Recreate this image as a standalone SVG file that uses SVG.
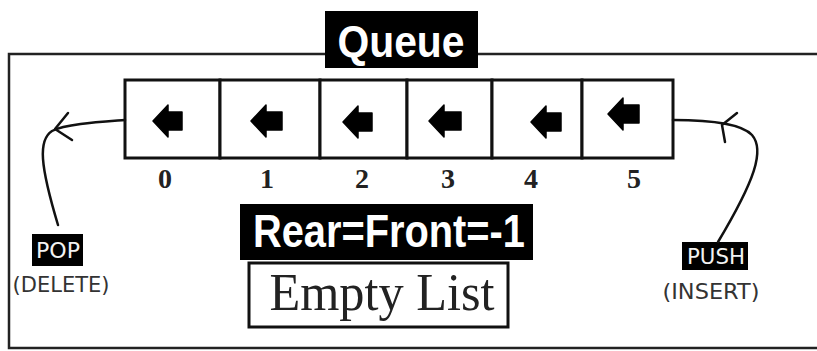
<svg xmlns="http://www.w3.org/2000/svg" width="817" height="351" viewBox="0 0 817 351">
<style>
.frame{fill:none;stroke:#222;stroke-width:2.5}
.cell{fill:#fff;stroke:#111;stroke-width:3}
.arr{fill:#000;stroke:#000;stroke-width:1.5;stroke-linejoin:round}
.idx{font-family:"Liberation Serif",serif;font-weight:bold;font-size:28px;fill:#222;text-anchor:middle}
.conn{fill:none;stroke:#111;stroke-width:2.5;stroke-linecap:round;stroke-linejoin:round}
.tag{fill:#000}
.tagtxt{font-family:"DejaVu Sans",sans-serif;font-size:22px;fill:#f2f2f2;text-anchor:middle}
.sub{font-family:"DejaVu Sans",sans-serif;font-size:22px;fill:#333;text-anchor:middle}
</style>
<rect width="817" height="351" fill="#fff"/>
<g id="frame">
<path class="frame" d="M325,54 H9 V348 H817 M478,54 H817"/>
</g>
<g id="title">
<rect x="325" y="11" width="153" height="57" fill="#000"/>
<text x="401" y="57" font-family="Liberation Sans,sans-serif" font-weight="bold" font-size="44" fill="#fff" text-anchor="middle" textLength="127" lengthAdjust="spacingAndGlyphs">Queue</text>
</g>
<g id="array">
<rect class="cell" x="125" y="80" width="95" height="78"/>
<rect class="cell" x="220" y="80" width="100" height="78"/>
<rect class="cell" x="320" y="80" width="87" height="78"/>
<rect class="cell" x="407" y="80" width="85" height="78"/>
<rect class="cell" x="492" y="80" width="90" height="78"/>
<rect class="cell" x="582" y="80" width="91" height="78"/>
<path class="arr" d="M153,121 L168,105 L168,112 L182,112 L182,130 L168,130 L168,137 Z"/>
<path class="arr" d="M251,121 L266,105 L266,112 L282,112 L282,130 L266,130 L266,137 Z"/>
<path class="arr" d="M343,122 L358,106 L358,113 L372,113 L372,131 L358,131 L358,138 Z"/>
<path class="arr" d="M429,121 L444,105 L444,112 L461,112 L461,130 L444,130 L444,137 Z"/>
<path class="arr" d="M531,122 L546,106 L546,113 L561,113 L561,131 L546,131 L546,138 Z"/>
<path class="arr" d="M608,114 L623,98 L623,105 L639,105 L639,123 L623,123 L623,130 Z"/>
<text class="idx" x="165" y="188">0</text>
<text class="idx" x="267" y="188">1</text>
<text class="idx" x="362" y="188">2</text>
<text class="idx" x="448" y="188">3</text>
<text class="idx" x="531" y="188">4</text>
<text class="idx" x="634" y="188">5</text>
</g>
<g id="state">
<rect x="240" y="204" width="293" height="56" fill="#000"/>
<text x="389" y="247" font-family="Liberation Sans,sans-serif" font-weight="bold" font-size="47" fill="#fff" text-anchor="middle" textLength="272" lengthAdjust="spacingAndGlyphs">Rear=Front=-1</text>
</g>
<g id="empty">
<rect x="249" y="263" width="259" height="64" fill="#fff" stroke="#111" stroke-width="3"/>
<text x="382" y="310" font-family="Liberation Serif,serif" font-size="53" fill="#222" text-anchor="middle" textLength="225" lengthAdjust="spacingAndGlyphs">Empty List</text>
</g>
<g id="pop">
<rect class="tag" x="32" y="234" width="51" height="32"/>
<text class="tagtxt" x="58" y="258" textLength="44" lengthAdjust="spacingAndGlyphs">POP</text>
<text class="sub" x="61" y="292" textLength="97" lengthAdjust="spacingAndGlyphs">(DELETE)</text>
</g>
<g id="push">
<rect class="tag" x="682" y="242" width="66" height="28"/>
<text class="tagtxt" x="716" y="264" textLength="58" lengthAdjust="spacingAndGlyphs">PUSH</text>
<text class="sub" x="711" y="299" textLength="97" lengthAdjust="spacingAndGlyphs">(INSERT)</text>
</g>
<g id="connectors">
<path class="conn" d="M125,120 C100,122 66,124 52,131 C38,140 40,165 58,225"/>
<path class="conn" d="M68,113 L55,129 L72,140"/>
<path class="conn" d="M673,120 C700,120 740,122 752,135 C765,150 755,180 718,242"/>
<path class="conn" d="M737,113 L722,125 L725,142"/>
</g>
</svg>
